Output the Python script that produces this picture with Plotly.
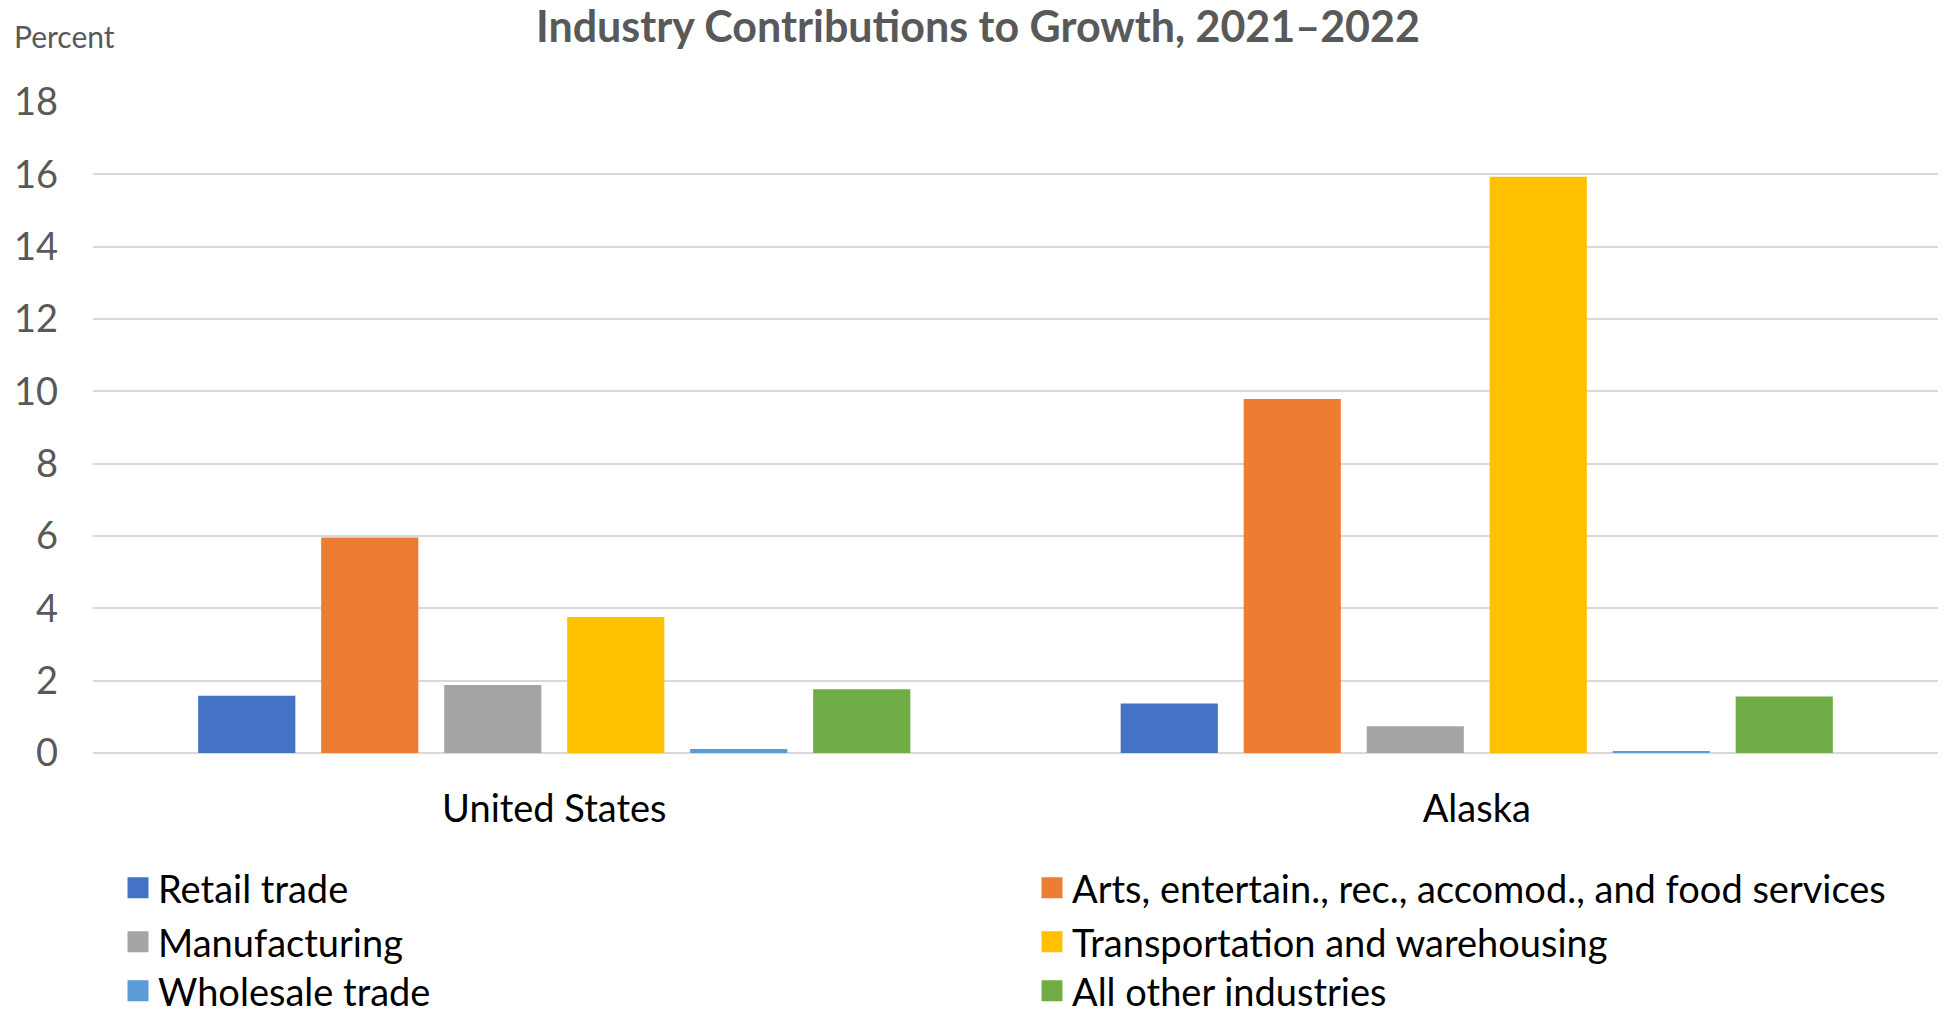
import plotly.graph_objects as go

# Contribution to growth (percentage points), 2021–2022
regions = ["United States", "Alaska"]
industries = [
    "Retail trade",
    "Arts, entertain., rec., accomod., and food services",
    "Manufacturing",
    "Transportation and warehousing",
    "Wholesale trade",
    "All other industries",
]
retail_trade = [1.58, 1.37]
arts_food = [5.96, 9.79]
manufacturing = [1.88, 0.74]
transport_warehousing = [3.76, 15.93]
wholesale_trade = [0.11, 0.03]
all_other = [1.76, 1.56]
y_ticks = [0, 2, 4, 6, 8, 10, 12, 14, 16, 18]

series = [retail_trade, arts_food, manufacturing, transport_warehousing, wholesale_trade, all_other]
colors = ["#4472C4", "#ED7D31", "#A5A5A5", "#FFC000", "#5B9BD5", "#70AD47"]

FONT = "Lato"
W, H = 1942, 1016
plot_l, plot_r, plot_t, plot_b = 93, W - 4, 102, H - 263

fig = go.Figure()
legend_ids = ["legend", "legend2", "legend3", "legend4", "legend5", "legend6"]
for name, vals, col in zip(industries, series, colors):
    fig.add_trace(go.Bar(
        x=regions, y=vals, name=name, legendgroup=name, showlegend=False,
        marker=dict(color=col, line=dict(width=0)),
    ))
# square legend swatches, one legend key per industry
for name, col, lg in zip(industries, colors, legend_ids):
    fig.add_trace(go.Scatter(
        x=[None], y=[None], mode="markers", name=name, legendgroup=name,
        legend=lg, showlegend=True, hoverinfo="skip",
        marker=dict(symbol="square", size=16, color=col, line=dict(color=col, width=5)),
    ))

# Two-column legend, one entry per legend box (row-major order)
col_x = [118 / W, 1032 / W]
row_y = [1 - 888 / H, 1 - 942 / H, 1 - 991 / H]
legend_layout = {}
for i, lg in enumerate(legend_ids):
    r, c = divmod(i, 2)
    legend_layout[lg] = dict(
        x=col_x[c], y=row_y[r], xref="container", yref="container",
        xanchor="left", yanchor="middle", orientation="h",
        font=dict(family=FONT, size=38, color="#000000"),
        bgcolor="rgba(0,0,0,0)", borderwidth=0, itemwidth=30,
    )

fig.update_layout(
    width=W, height=H,
    margin=dict(l=plot_l, r=W - plot_r, t=plot_t, b=H - plot_b),
    paper_bgcolor="white", plot_bgcolor="white",
    showlegend=True,
    barmode="group", bargap=0.2, bargroupgap=0.21,
    title=dict(
        text="<b>Industry Contributions to Growth, 2021–2022</b>",
        x=978 / W, xref="container", xanchor="center",
        y=1 - 27 / H, yref="container", yanchor="middle",
        font=dict(family=FONT, size=43, color="#595959"),
    ),
    xaxis=dict(
        showgrid=False, showline=False, ticks="", zeroline=False,
        tickfont=dict(family=FONT, size=38, color="#000000"),
        ticklabelstandoff=30,
    ),
    yaxis=dict(
        range=[0, 18], tickvals=y_ticks,
        showgrid=True, gridcolor="#D9D9D9", gridwidth=2,
        zeroline=True, zerolinecolor="#D9D9D9", zerolinewidth=2,
        showline=False, ticks="",
        tickfont=dict(family=FONT, size=38, color="#595959"),
        ticklabelstandoff=34,
    ),
    **legend_layout,
)
fig.add_annotation(
    text="Percent",
    x=(12 - plot_l) / (plot_r - plot_l), y=(plot_b - 36) / (plot_b - plot_t),
    xref="paper", yref="paper", showarrow=False,
    xanchor="left", yanchor="middle",
    font=dict(family=FONT, size=30, color="#595959"),
)

fig.write_html("out.html")
